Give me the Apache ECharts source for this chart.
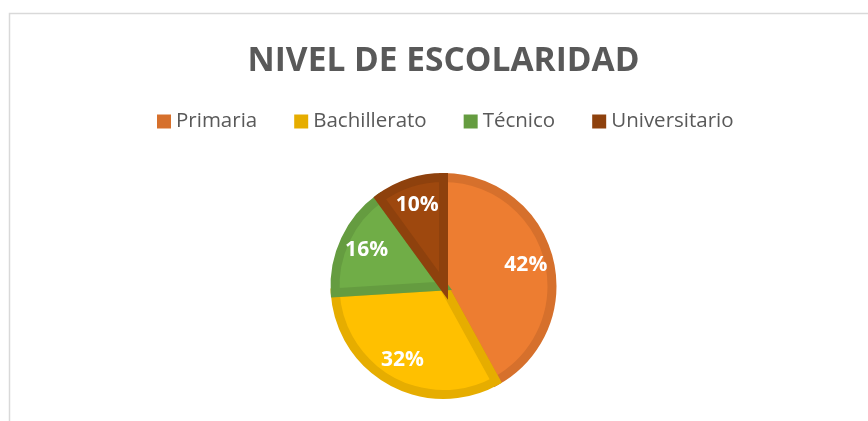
<!DOCTYPE html>
<html>
<head>
<meta charset="utf-8">
<script src="https://cdn.jsdelivr.net/npm/echarts@6/dist/echarts.min.js"></script>
<style>
html,body{margin:0;padding:0;background:#fff;}
#chart{width:868px;height:421px;}
</style>
</head>
<body>
<div id="chart"></div>
<script>
const titleText = 'NIVEL DE ESCOLARIDAD';
const categories = ['Primaria', 'Bachillerato', 'Técnico', 'Universitario'];
const values = [42, 32, 16, 10];
const fillColors = ['#ED7D31', '#FFC000', '#70AD47', '#9E480E'];
const edgeColors = ['#D6702C', '#E6AD00', '#659C40', '#8E410D'];

const chart = echarts.init(document.getElementById('chart'), null, {renderer: 'canvas'});

const mainData = categories.map((c, i) => ({
  name: c,
  value: values[i],
  itemStyle: {color: fillColors[i], borderColor: edgeColors[i]}
}));
const labelData = categories.map((c, i) => ({name: c, value: values[i]}));

chart.setOption({
  backgroundColor: '#ffffff',
  animation: false,
  graphic: [{
    type: 'rect',
    shape: {x: 9.5, y: 13.5, width: 1000, height: 600},
    style: {fill: 'none', stroke: '#D9D9D9', lineWidth: 1.5},
    silent: true,
    z: -10
  }],
  title: {
    text: titleText,
    left: 438.5,
    textAlign: 'center',
    top: 39,
    textStyle: {
      fontFamily: 'Open Sans',
      fontWeight: 'bold',
      fontSize: 33.5,
      color: '#595959'
    }
  },
  legend: {
    left: 157,
    top: 111,
    padding: 0,
    itemWidth: 14,
    itemHeight: 14,
    itemGap: 37,
    icon: 'rect',
    selectedMode: false,
    textStyle: {fontFamily: 'Open Sans', fontSize: 20.5, color: '#595959'},
    data: categories.map((c, i) => ({
      name: c,
      itemStyle: {color: edgeColors[i], borderWidth: 0}
    }))
  },
  series: [
    {
      type: 'pie',
      center: [443.5, 286],
      radius: [0, 108.5],
      startAngle: 90,
      clockwise: true,
      silent: true,
      itemStyle: {borderWidth: 9, borderJoin: 'miter'},
      label: {show: false},
      labelLine: {show: false},
      emphasis: {disabled: true},
      data: mainData
    },
    {
      type: 'pie',
      center: [443.5, 286],
      radius: [0, 164],
      startAngle: 90,
      clockwise: true,
      silent: true,
      itemStyle: {color: 'rgba(0,0,0,0)', borderWidth: 0},
      label: {
        show: true,
        position: 'inside',
        formatter: '{c}%',
        fontFamily: 'Open Sans',
        fontWeight: 'bold',
        fontSize: 21,
        color: '#ffffff'
      },
      labelLine: {show: false},
      emphasis: {disabled: true},
      data: labelData,
      z: 5
    }
  ]
});
</script>
</body>
</html>
